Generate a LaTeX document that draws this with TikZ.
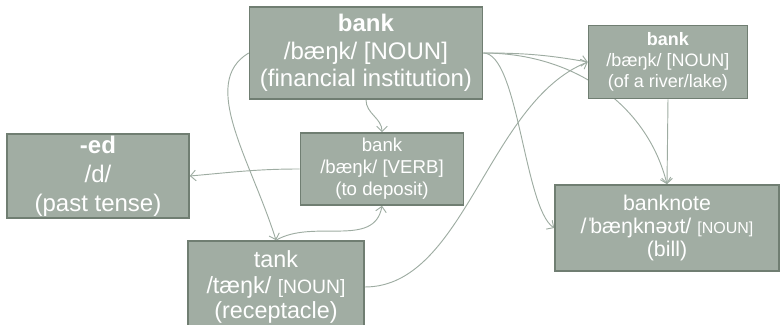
\documentclass[tikz,border=0pt]{standalone}
\usepackage{fontspec}
\setmainfont{Liberation Sans}
\usetikzlibrary{arrows.meta, backgrounds}
\definecolor{boxfill}{RGB}{161,173,163}
\definecolor{boxline}{RGB}{112,126,114}
\definecolor{linkc}{RGB}{158,172,162}
\tikzstyle{sense}=[draw=boxline,fill=boxfill,line width=1.2pt,rectangle,text=white,align=center,inner sep=0pt]
\tikzstyle{link}=[draw=linkc,line width=0.7pt,->]
\tikzstyle{big}=[font=\fontsize{18}{20.5}\selectfont]
\tikzstyle{mid}=[font=\fontsize{16}{17.5}\selectfont]
\tikzstyle{small}=[font=\fontsize{14}{16.5}\selectfont]
\newcommand{\wcls}[2]{{\fontsize{#1}{#1}\selectfont[#2]}}

\begin{document}
\begin{tikzpicture}[x=0.75pt,y=0.75pt,>={Straight Barb[length=4pt,width=8pt]}]
    \clip (0,0) rectangle (783,325);
    \node[sense, big, minimum width=174.75pt, minimum height=69pt] (bfin) at (366,272) {\textbf{bank}\\/bæŋk/ [NOUN]\\(financial institution)};
    \node[sense, small, minimum width=122.25pt, minimum height=54pt] (bverb) at (382,156) {bank\\/bæŋk/ [VERB]\\(to deposit)};
    \node[sense, big, font=\fontsize{18}{21.75}\selectfont, minimum width=136.5pt, minimum height=63pt] (ed) at (98,149) {\textbf{-ed}\\/d/\\(past tense)};
    \node[sense, big, font=\fontsize{17.5}{19}\selectfont, minimum width=132pt, minimum height=69pt] (tank) at (276,38) {tank\\/tæŋk/ \wcls{14.5}{NOUN}\\(receptacle)};
    \node[sense, small, font=\fontsize{13.5}{16}\selectfont, minimum width=119.25pt, minimum height=54.75pt] (briver) at (668,263) {\textbf{bank}\\/bæŋk/ [NOUN]\\(of a river/lake)};
    \node[sense, mid, minimum width=168pt, minimum height=64.5pt] (bnote) at (667,97) {banknote\\/ˈ\kern-2.5pt bæŋknəʊt/ \wcls{12}{NOUN}\\(bill)};
    \begin{scope}[on background layer]
        \draw[link] (bfin.south) to[out=-90,in=90] (bverb.north);
        \draw[link] (bfin.west) .. controls +(-50,-30) and +(-25,80) .. (tank.north);
        \draw[link] (bverb.west) to[out=180,in=5] (ed.east);
        \draw[link] (tank.north) to[out=30,in=-100] (bverb.south);
        \draw[link] (tank.east) .. controls +(100,0) and +(-100,-40) .. (briver.west);
        \draw[link] (bfin.east) to[out=0,in=170] (briver.west);
        \draw[link] (bfin.east) .. controls +(90,0) and +(-20,80) .. (bnote.north);
        \draw[link] (briver.south) -- (bnote.north);
        \draw[link] (bfin.east) .. controls +(35,0) and +(-30,20) .. (bnote.west);
    \end{scope}
\end{tikzpicture}
\end{document}
